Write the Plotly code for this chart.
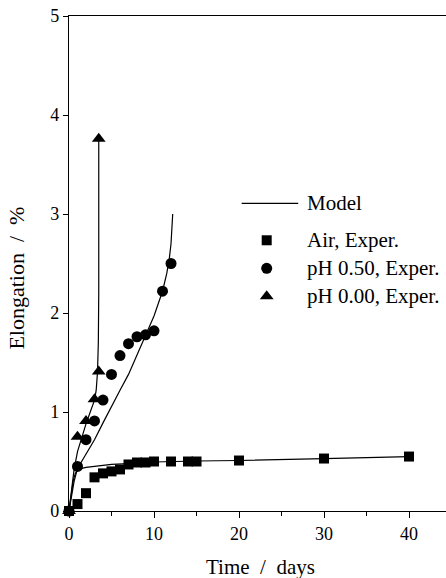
import plotly.graph_objects as go

# Experimental data
air_t = [0, 1, 2, 3, 4, 5, 6, 7, 8, 9, 10, 12, 14, 15, 20, 30, 40]
air_e = [0, 0.07, 0.18, 0.34, 0.38, 0.40, 0.42, 0.47, 0.49, 0.49, 0.50, 0.50, 0.50, 0.50, 0.51, 0.53, 0.55]
ph05_t = [0, 1, 2, 3, 4, 5, 6, 7, 8, 9, 10, 11, 12]
ph05_e = [0, 0.45, 0.72, 0.91, 1.12, 1.38, 1.57, 1.69, 1.76, 1.78, 1.82, 2.22, 2.50]
ph00_t = [0, 1, 2, 3, 3.5, 3.5]
ph00_e = [0, 0.75, 0.91, 1.13, 1.41, 3.76]

# Model curves
air_mt = [0, 0.25, 0.5, 0.75, 1, 1.5, 2, 3, 5, 7, 10, 15, 20, 30, 40]
air_me = [0, 0.17, 0.31, 0.38, 0.41, 0.43, 0.44, 0.45, 0.47, 0.48, 0.495, 0.505, 0.51, 0.53, 0.55]
ph05_mt = [0, 0.3, 0.6, 1, 2, 3, 4, 5, 6, 7, 8, 9, 10, 11, 11.5, 11.8, 12.0, 12.2]
ph05_me = [0, 0.16, 0.30, 0.43, 0.58, 0.72, 0.89, 1.06, 1.22, 1.38, 1.58, 1.77, 1.97, 2.22, 2.40, 2.55, 2.70, 3.0]
ph00_mt = [0, 0.3, 0.6, 1, 1.5, 2, 2.5, 3, 3.2, 3.35, 3.45, 3.5, 3.5]
ph00_me = [0, 0.22, 0.42, 0.60, 0.75, 0.88, 1.0, 1.12, 1.22, 1.40, 1.70, 2.20, 3.76]

x_ticks = [0, 10, 20, 30, 40]
y_ticks = [0, 1, 2, 3, 4, 5]

# Legend entries (labels and symbols)
legend_labels = ["Model", "Air, Exper.", "pH 0.50, Exper.", "pH 0.00, Exper."]
legend_symbols = [None, "square", "circle", "triangle-up"]
legend_sizes = [None, 10, 11, 12]

FONT = "Liberation Serif, Times New Roman, Times, serif"
fig = go.Figure()

line_style = dict(color="black", width=1.2)
for mt, me in [(air_mt, air_me), (ph05_mt, ph05_me), (ph00_mt, ph00_me)]:
    fig.add_trace(go.Scatter(x=mt, y=me, mode="lines", line=line_style, showlegend=False,
                             cliponaxis=False, hoverinfo="skip"))

for t, e, sym, sz, nm in [(air_t, air_e, "square", 10, legend_labels[1]),
                          (ph05_t, ph05_e, "circle", 11, legend_labels[2]),
                          (ph00_t, ph00_e, "triangle-up", 12, legend_labels[3])]:
    fig.add_trace(go.Scatter(x=t, y=e, mode="markers", name=nm, showlegend=False,
                             marker=dict(symbol=sym, size=sz, color="black"), cliponaxis=False))

# Custom legend on an overlay axis spanning the plot area (0..1 in both directions)
leg_x_sym = 0.5244
leg_x_line = [0.458, 0.608]
leg_x_text = 0.626
leg_rows = [0.6216, 0.5469, 0.4903, 0.4337]

fig.add_trace(go.Scatter(x=leg_x_line, y=[leg_rows[0]] * 2, mode="lines", line=line_style,
                         xaxis="x2", yaxis="y2", showlegend=False, hoverinfo="skip", cliponaxis=False))
for i in range(1, 4):
    fig.add_trace(go.Scatter(x=[leg_x_sym], y=[leg_rows[i]], mode="markers", xaxis="x2", yaxis="y2",
                             marker=dict(symbol=legend_symbols[i], size=legend_sizes[i], color="black"),
                             showlegend=False, hoverinfo="skip", cliponaxis=False))

annotations = [
    dict(text="Time\u00a0\u00a0/\u00a0\u00a0days", xref="paper", yref="paper", x=0.507, y=-0.113,
         xanchor="center", yanchor="middle", showarrow=False, font=dict(family=FONT, size=21)),
    dict(text="Elongation\u00a0\u00a0/\u00a0\u00a0%", xref="paper", yref="paper", x=-0.14, y=0.47,
         xanchor="center", yanchor="middle", textangle=-90, showarrow=False,
         font=dict(family=FONT, size=22)),
]
for lab, yy in zip(legend_labels, leg_rows):
    annotations.append(dict(text=lab, xref="paper", yref="paper", x=leg_x_text, y=yy,
                            xanchor="left", yanchor="middle", showarrow=False,
                            font=dict(family=FONT, size=21)))

fig.update_layout(
    width=446, height=578,
    margin=dict(l=69, r=0, t=16, b=67),
    plot_bgcolor="white", paper_bgcolor="white",
    font=dict(family=FONT, size=18, color="black"),
    showlegend=False,
    xaxis=dict(range=[0, 44.35], tickvals=x_ticks, ticks="outside", ticklen=6, tickwidth=1.2,
               tickcolor="black", showline=True, linecolor="black", linewidth=1.2, mirror=True,
               showgrid=False, zeroline=False, tickfont=dict(family=FONT, size=18),
               minor=dict(dtick=5, tick0=0, ticks="outside", ticklen=4, tickwidth=1.2,
                          tickcolor="black", showgrid=False)),
    yaxis=dict(range=[0, 5], tickvals=y_ticks, ticks="outside", ticklen=5, tickwidth=1.2,
               tickcolor="black", showline=True, linecolor="black", linewidth=1.2,
               showgrid=False, zeroline=False, tickfont=dict(family=FONT, size=18)),
    xaxis2=dict(overlaying="x", range=[0, 1], visible=False, fixedrange=True),
    yaxis2=dict(overlaying="y", range=[0, 1], visible=False, fixedrange=True),
    annotations=annotations,
)

fig.write_html("out.html")
